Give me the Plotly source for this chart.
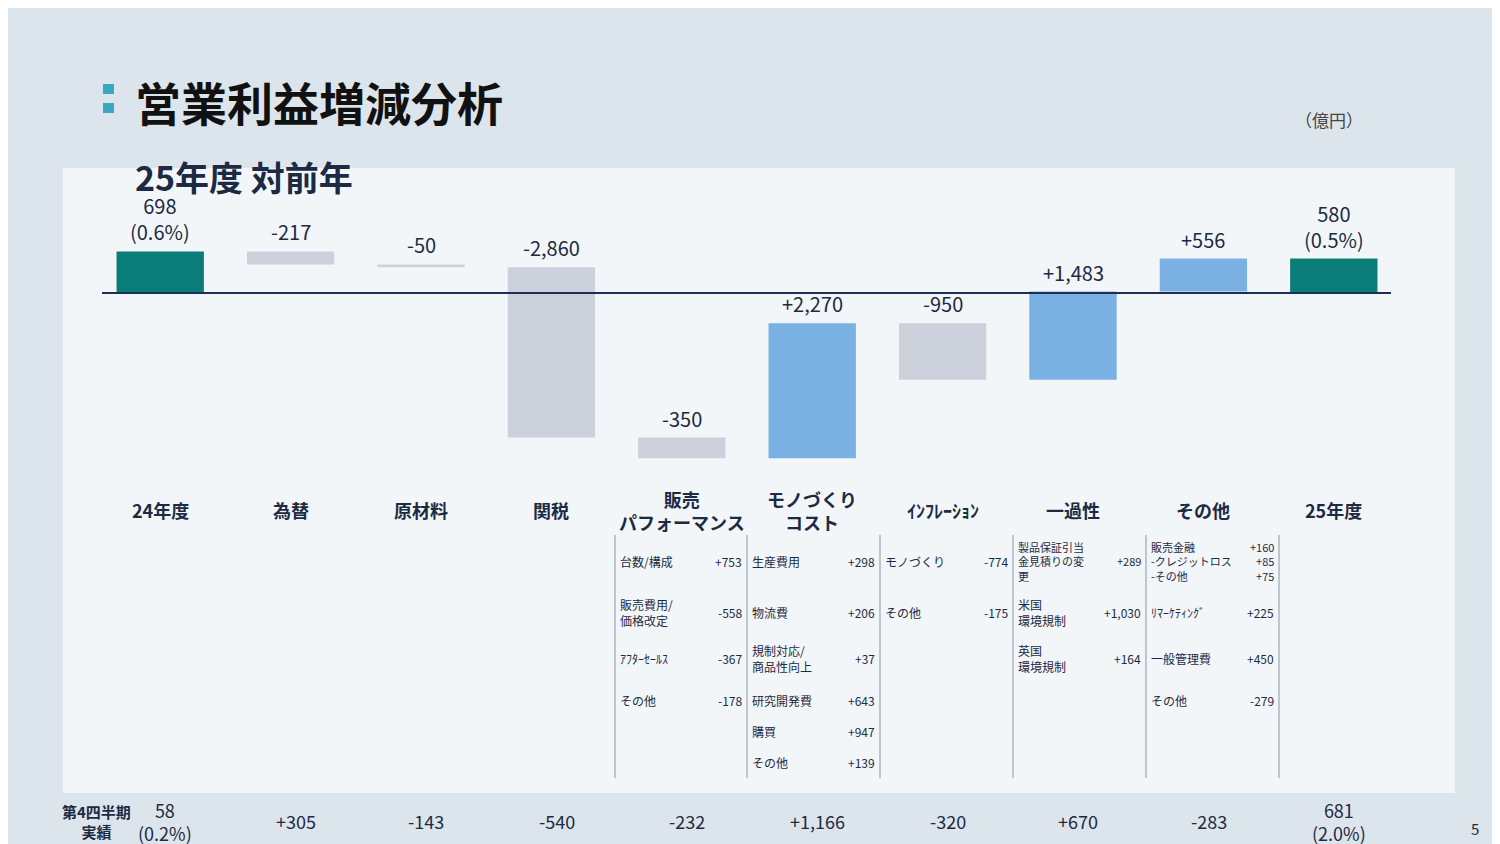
import plotly.graph_objects as go

categories = ["24年度", "為替", "原材料", "関税", "販売<br>パフォーマンス", "モノづくり<br>コスト",
              "ｲﾝﾌﾚｰｼｮﾝ", "一過性", "その他", "25年度"]
values = [698, -217, -50, -2860, -350, 2270, -950, 1483, 556, 580]
measures = ["absolute"] + ["relative"] * 8 + ["total"]
bar_labels = ["698<br>(0.6%)", "-217", "-50", "-2,860", "-350", "+2,270", "-950", "+1,483", "+556", "580<br>(0.5%)"]
q4_labels = ["58<br>(0.2%)", "+305", "-143", "-540", "-232", "+1,166", "-320", "+670", "-283", "681<br>(2.0%)"]

detail_cols = [
    [("台数/構成", "+753"), ("販売費用/<br>価格改定", "-558"), ("ｱﾌﾀｰｾｰﾙｽ", "-367"), ("その他", "-178")],
    [("生産費用", "+298"), ("物流費", "+206"), ("規制対応/<br>商品性向上", "+37"), ("研究開発費", "+643"),
     ("購買", "+947"), ("その他", "+139")],
    [("モノづくり", "-774"), ("その他", "-175")],
    [("製品保証引当<br>金見積りの変<br>更", "+289"), ("米国<br>環境規制", "+1,030"), ("英国<br>環境規制", "+164")],
    [("販売金融<br>-クレジットロス<br>-その他", "+160<br>+85<br>+75"), ("ﾘﾏｰｹﾃｨﾝｸﾞ", "+225"),
     ("一般管理費", "+450"), ("その他", "-279")],
]
row_y = [553, 604, 650, 692, 723, 754]

W, H = 1500, 844
FONT = "Noto Sans CJK JP"
NAVY = "#1c2a44"

def px(x): return x / W
def py(y): return 1 - y / H

fig = go.Figure(go.Waterfall(
    x=list(range(10)), y=values, measure=measures,
    increasing=dict(marker=dict(color="#7ab1e2")),
    decreasing=dict(marker=dict(color="#cdd1dc")),
    totals=dict(marker=dict(color="#0b7d78")),
    connector=dict(visible=False), width=0.67, hoverinfo="skip",
))

cum = 0
tops = []
for i, v in enumerate(values):
    if measures[i] == "absolute":
        start, end = 0, v; cum = v
    elif measures[i] == "total":
        start, end = 0, cum
    else:
        start, end = cum, cum + v; cum += v
    tops.append(max(start, end))

ann = []
for i, t in enumerate(tops):
    ann.append(dict(x=i, y=t, xref="x", yref="y", text=bar_labels[i], showarrow=False,
                    yanchor="bottom", yshift=3, font=dict(size=20, color=NAVY, family=FONT)))
    ann.append(dict(x=i, y=py(502), xref="x", yref="paper", text="<b>" + categories[i] + "</b>",
                    showarrow=False, yanchor="middle", font=dict(size=18, color=NAVY, family=FONT)))
    ann.append(dict(x=i + 0.04, y=py(813), xref="x", yref="paper", text=q4_labels[i], showarrow=False,
                    yanchor="middle", font=dict(size=18, color=NAVY, family=FONT)))

col_edges = [607, 739, 872, 1005, 1138, 1271]
shapes = []
for e in col_edges:
    shapes.append(dict(type="line", xref="paper", yref="paper", x0=px(e), x1=px(e), y0=py(527), y1=py(770),
                       line=dict(color="#8a94a6", width=1)))
for c, items in enumerate(detail_cols):
    l, r = col_edges[c], col_edges[c + 1]
    for j, (lab, val) in enumerate(items):
        fs = 11 if "<br>" in lab and lab.count("<br>") > 1 else 12
        ann.append(dict(x=px(l + 3), y=py(row_y[j]), xref="paper", yref="paper", text=lab, showarrow=False,
                        xanchor="left", yanchor="middle", align="left",
                        font=dict(size=fs, color=NAVY, family=FONT)))
        ann.append(dict(x=px(r - 3), y=py(row_y[j]), xref="paper", yref="paper", text=val, showarrow=False,
                        xanchor="right", yanchor="middle", align="right",
                        font=dict(size=fs, color=NAVY, family=FONT)))

shapes.insert(0, dict(type="rect", xref="paper", yref="paper", x0=px(55), x1=px(1447), y0=py(785), y1=py(160),
                      fillcolor="rgba(255,255,255,0.65)", line=dict(width=0), layer="below"))
shapes.append(dict(type="line", xref="paper", yref="y", x0=px(94), x1=px(1383), y0=0, y1=0,
                   line=dict(color="#1c2f52", width=2)))
for yy in (81, 100):
    shapes.append(dict(type="rect", xref="paper", yref="paper", x0=px(95), x1=px(106), y0=py(yy + 5), y1=py(yy - 5),
                       fillcolor="#3aa7c0", line=dict(width=0)))

ann += [
    dict(x=px(125), y=py(93), xref="paper", yref="paper", text="<b>営業利益増減分析</b>", showarrow=False,
         xanchor="left", yanchor="middle", font=dict(size=46, color="#111111", family=FONT)),
    dict(x=px(125), y=py(168), xref="paper", yref="paper", text="<b>25年度 対前年</b>", showarrow=False,
         xanchor="left", yanchor="middle", font=dict(size=34, color=NAVY, family=FONT)),
    dict(x=px(1357), y=py(111), xref="paper", yref="paper", text="（億円）", showarrow=False,
         yanchor="middle", font=dict(size=17, color="#444", family=FONT)),
    dict(x=px(52), y=py(813), xref="paper", yref="paper", text="<b>第4四半期<br>実績</b>", showarrow=False,
         yanchor="middle", font=dict(size=15, color=NAVY, family=FONT)),
    dict(x=px(1473), y=py(820), xref="paper", yref="paper", text="5", showarrow=False,
         yanchor="middle", font=dict(size=15, color=NAVY, family=FONT)),
]

fig.update_layout(
    width=W, height=H, margin=dict(l=0, r=0, t=0, b=0),
    paper_bgcolor="#dce5eb", plot_bgcolor="rgba(0,0,0,0)", showlegend=False,
    xaxis=dict(domain=[px(87), px(1391)], range=[-0.5, 9.5], visible=False),
    yaxis=dict(domain=[py(460), py(190)], range=[-2941, 1597], visible=False),
    annotations=ann, shapes=shapes,
)
fig.write_html("out.html")
